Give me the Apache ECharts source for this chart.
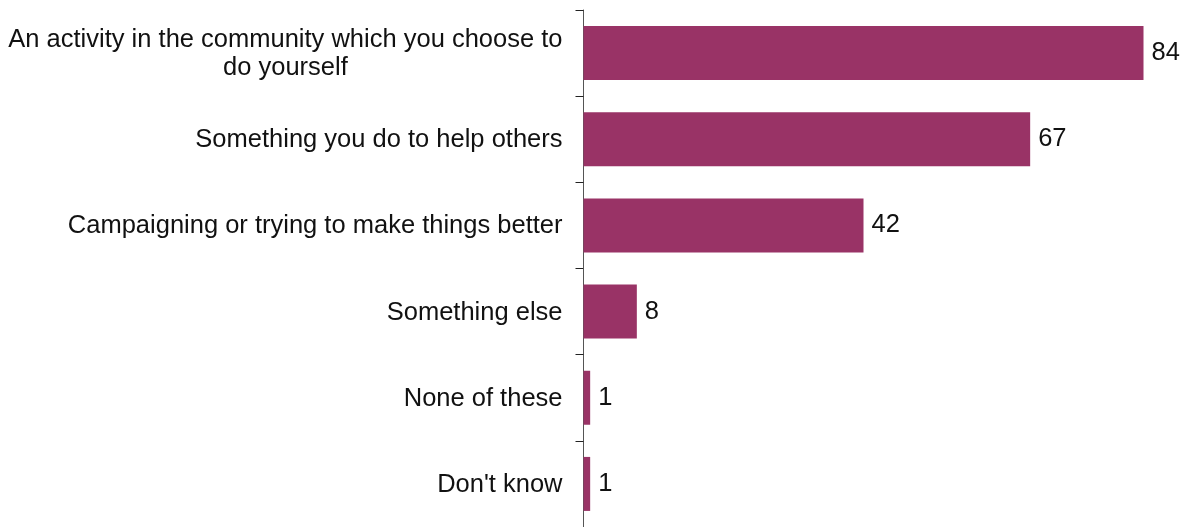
<!DOCTYPE html>
<html>
<head>
<meta charset="utf-8">
<script src="https://cdn.jsdelivr.net/npm/echarts@6/dist/echarts.min.js"></script>
<style>html,body{margin:0;padding:0;background:#fff;}#c{width:1190px;height:527px;}</style>
</head>
<body>
<div id="c"></div>
<script>
const categories = [
  "An activity in the community which you choose to\ndo yourself",
  "Something you do to help others",
  "Campaigning or trying to make things better",
  "Something else",
  "None of these",
  "Don't know"
];
const values = [84, 67, 42, 8, 1, 1];

const FONT = 'Liberation Sans, Arial, sans-serif';
const chart = echarts.init(document.getElementById('c'));
chart.setOption({
  animation: false,
  grid: { left: 583.5, right: 6.5, top: 10, bottom: -4, containLabel: false },
  xAxis: {
    type: 'value', min: 0, max: 90, show: false
  },
  yAxis: {
    type: 'category', inverse: true, data: categories,
    axisLine: { show: true, lineStyle: { color: '#555', width: 1 } },
    axisTick: { show: true, length: 8, inside: false, lineStyle: { color: '#222' } },
    axisLabel: {
      margin: 21, color: '#111', fontFamily: FONT, fontSize: 25.5,
      formatter: function (v) {
        return v.split('\n').map(function (s) { return '{c|' + s + '}'; }).join('\n');
      },
      rich: { c: { align: 'center', fontSize: 25.5, lineHeight: 28, color: '#111', fontFamily: FONT, padding: [2, 0, 0, 0] } }
    },
    splitLine: { show: false }
  },
  series: [{
    type: 'bar', data: values, barWidth: 54,
    itemStyle: { color: '#993366' },
    label: { show: true, position: 'right', distance: 8, color: '#111', fontSize: 25.5, fontFamily: FONT, padding: [3, 0, 0, 0] }
  }]
});
</script>
</body>
</html>
